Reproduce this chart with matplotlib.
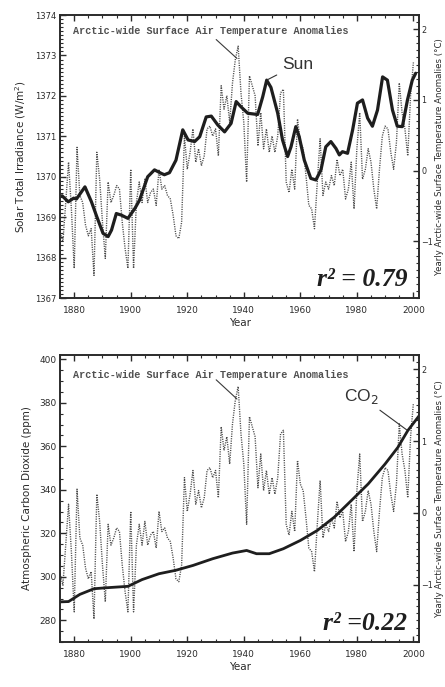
import matplotlib.pyplot as plt
import numpy as np
from matplotlib.ticker import MultipleLocator

# yearly Arctic-wide surface air temperature anomalies (deg C), 1875-2000
years = np.arange(1875, 2001)
temp_anom = [
    -0.85, -1.01, -0.45, 0.12, -0.54, -1.38, 0.33, -0.35, -0.45, -0.77,
    -0.92, -0.82, -1.48, 0.26, -0.12, -0.73, -1.24, -0.16, -0.45, -0.35,
    -0.21, -0.26, -0.73, -1.10, -1.38, 0.02, -1.38, -0.45, -0.16, -0.45,
    -0.12, -0.45, -0.31, -0.26, -0.49, 0.02, -0.26, -0.21, -0.35, -0.40,
    -0.63, -0.92, -0.96, -0.73, 0.49, 0.02, 0.26, 0.59, 0.12, 0.31,
    0.07, 0.21, 0.59, 0.63, 0.49, 0.59, 0.21, 1.20, 0.87, 1.06,
    0.68, 1.24, 1.57, 1.76, 1.10, 0.68, -0.16, 1.34, 1.20, 1.06,
    0.35, 0.82, 0.31, 0.59, 0.26, 0.49, 0.26, 0.49, 1.10, 1.15,
    -0.16, -0.31, 0.02, -0.26, 0.73, 0.40, 0.31, -0.07, -0.49, -0.54,
    -0.82, -0.16, 0.45, -0.35, -0.16, -0.26, -0.07, -0.21, 0.16, -0.07,
    0.02, -0.40, -0.26, 0.12, -0.54, 0.31, 0.82, -0.12, 0.02, 0.31,
    0.12, -0.26, -0.54, 0.02, 0.49, 0.63, 0.59, 0.26, 0.02, 0.40,
    1.24, 0.82, 0.59, 0.21, 1.06, 1.53,
]

# solar total irradiance (W/m^2)
sun_years = [1875.7, 1877.9, 1879.8, 1880.8, 1883.8, 1886.1, 1888.0, 1890.2, 1892.0,
             1893.2, 1894.9, 1896.7, 1899.0, 1901.5, 1903.1, 1906.0, 1908.4, 1910.9,
             1911.9, 1913.7, 1916.0, 1918.4, 1920.3, 1922.6, 1924.4, 1926.7, 1928.5,
             1930.8, 1933.2, 1935.5, 1937.3, 1939.0, 1941.4, 1944.9, 1946.7, 1948.1,
             1949.6, 1952.0, 1953.7, 1955.5, 1956.7, 1958.4, 1959.6, 1961.4, 1963.7,
             1965.5, 1967.3, 1969.0, 1970.8, 1972.6, 1973.8, 1974.9, 1976.7, 1978.5,
             1980.2, 1982.0, 1983.8, 1985.5, 1987.3, 1989.1, 1990.8, 1992.6, 1994.3,
             1996.1, 1997.9, 1999.6, 2000.8]
sun_tsi = [1369.53, 1369.38, 1369.47, 1369.45, 1369.75, 1369.38, 1369.01, 1368.60, 1368.52,
           1368.68, 1369.09, 1369.05, 1368.97, 1369.22, 1369.42, 1370.00, 1370.17, 1370.08,
           1370.05, 1370.10, 1370.41, 1371.16, 1370.91, 1370.87, 1370.99, 1371.48, 1371.50,
           1371.28, 1371.11, 1371.32, 1371.86, 1371.73, 1371.57, 1371.54, 1371.98, 1372.39,
           1372.21, 1371.57, 1370.91, 1370.50, 1370.74, 1371.24, 1370.99, 1370.41, 1369.96,
           1369.92, 1370.17, 1370.74, 1370.87, 1370.70, 1370.54, 1370.62, 1370.58, 1371.16,
           1371.82, 1371.90, 1371.45, 1371.25, 1371.65, 1372.47, 1372.39, 1371.65, 1371.25,
           1371.24, 1371.90, 1372.39, 1372.56]

# atmospheric CO2 (ppm)
co2_years = [1874, 1878, 1882, 1887, 1892, 1899, 1904, 1910, 1916, 1922, 1929, 1936,
             1941, 1944.5, 1949, 1954, 1960, 1966, 1972, 1978, 1984, 1990, 1994.5,
             1998, 2002]
co2_ppm = [288.4, 288.6, 291.9, 294.5, 295.0, 295.6, 298.7, 301.4, 303.0, 305.2, 308.3,
           310.9, 312.1, 310.6, 310.6, 312.9, 316.7, 321.3, 327.4, 335.0, 342.7, 351.9,
           359.5, 367.2, 374.0]

ink = '#2b2b2b'
label_text = 'Arctic-wide Surface Air Temperature Anomalies'
right_label = 'Yearly Arctic-wide Surface Temperature Anomalies (\u00b0C)'

fig = plt.figure(figsize=(4.45, 6.87), dpi=100)
ax_sun = fig.add_axes([0.135, 0.5662, 0.8067, 0.4119])
ax_co2 = fig.add_axes([0.135, 0.0655, 0.8067, 0.4178])


def style_axes(ax, ax_t, ylim, major, minor, ylabel, tick_size):
    ax.set_xlim(1875, 2002)
    ax.set_ylim(*ylim)
    ax.xaxis.set_major_locator(MultipleLocator(20))
    ax.xaxis.set_minor_locator(MultipleLocator(5))
    ax.yaxis.set_major_locator(MultipleLocator(major))
    ax.yaxis.set_minor_locator(MultipleLocator(minor))
    ax.tick_params(which='both', direction='in', top=True, right=False, colors=ink)
    ax.tick_params(which='major', length=4.5, width=1.0)
    ax.tick_params(which='minor', length=2.2, width=0.8)
    ax.tick_params(axis='x', labelsize=6.5, pad=6)
    ax.tick_params(axis='y', labelsize=tick_size, pad=2.5)
    ax.set_xlabel('Year', fontsize=7.5, color=ink, labelpad=2)
    ax.set_ylabel(ylabel, fontsize=7.5, color=ink, labelpad=5)

    ax_t.set_ylim(-1.8, 2.2)
    ax_t.yaxis.set_major_locator(MultipleLocator(1))
    ax_t.yaxis.set_minor_locator(MultipleLocator(0.1))
    ax_t.tick_params(which='both', direction='in', colors=ink, labelsize=5.8, pad=1.5)
    ax_t.tick_params(which='major', length=4.5, width=1.0)
    ax_t.tick_params(which='minor', length=2.2, width=0.8)
    ax_t.set_ylabel(right_label, fontsize=6.2, color=ink, rotation=90, labelpad=1.5)

    for ax_ in (ax, ax_t):
        for sp in ax_.spines.values():
            sp.set_color(ink)
            sp.set_linewidth(1.2)

    ax.set_zorder(ax_t.get_zorder() + 1)
    ax.patch.set_visible(False)


def draw_temperature(ax_t, text_y):
    ax_t.plot(years, temp_anom, color='#4a4a4a', lw=1.0, linestyle=(0, (0.8, 0.9)))
    peak = int(np.argmax(temp_anom))
    ax_t.text(0.036, text_y, label_text, transform=ax_t.transAxes, fontsize=7.3,
              family='Liberation Mono', weight='bold', color='#505050', va='center')
    ax_t.annotate('', xy=(years[peak] + 0.3, temp_anom[peak] - 0.2), xytext=(1929.5, 1.88),
                  arrowprops=dict(arrowstyle='-', color='#3a3a3a', lw=0.8))


# top panel: solar irradiance
ax_t1 = ax_sun.twinx()
style_axes(ax_sun, ax_t1, (1367, 1374), 1, 0.1, 'Solar Total Irradiance (W/m$^2$)', 6)
draw_temperature(ax_t1, 0.943)
ax_sun.plot(sun_years, sun_tsi, color='#1e1e1e', lw=2.3, solid_joinstyle='round',
            solid_capstyle='round')
i_pk = int(np.argmax(sun_tsi[:40]))
ax_sun.annotate('Sun', xy=(sun_years[i_pk], sun_tsi[i_pk]), xytext=(1953.5, 1372.78),
                fontsize=12.5, family='Liberation Sans', color='#333333', va='center',
                arrowprops=dict(arrowstyle='-', color='#333333', lw=0.8, shrinkB=1))
ax_sun.text(0.969, 0.064, 'r\u00b2 = 0.79', transform=ax_sun.transAxes, ha='right',
            va='center', fontsize=18.5, family='Liberation Serif', weight='bold',
            style='italic', color='#1e1e1e')

# bottom panel: carbon dioxide
ax_t2 = ax_co2.twinx()
style_axes(ax_co2, ax_t2, (270, 402), 20, 5, 'Atmospheric Carbon Dioxide (ppm)', 6.5)
draw_temperature(ax_t2, 0.930)
ax_co2.plot(co2_years, co2_ppm, color='#1e1e1e', lw=2.0, solid_joinstyle='round')
ax_co2.annotate('CO$_2$', xy=(1998, np.interp(1998, co2_years, co2_ppm)),
                xytext=(1975.3, 383), fontsize=12.5, family='Liberation Sans',
                color='#333333', va='center',
                arrowprops=dict(arrowstyle='-', color='#333333', lw=0.8, shrinkB=1))
ax_co2.text(0.967, 0.066, 'r\u00b2 =0.22', transform=ax_co2.transAxes, ha='right',
            va='center', fontsize=18.5, family='Liberation Serif', weight='bold',
            style='italic', color='#1e1e1e')

fig.savefig('out.png', dpi=100)
